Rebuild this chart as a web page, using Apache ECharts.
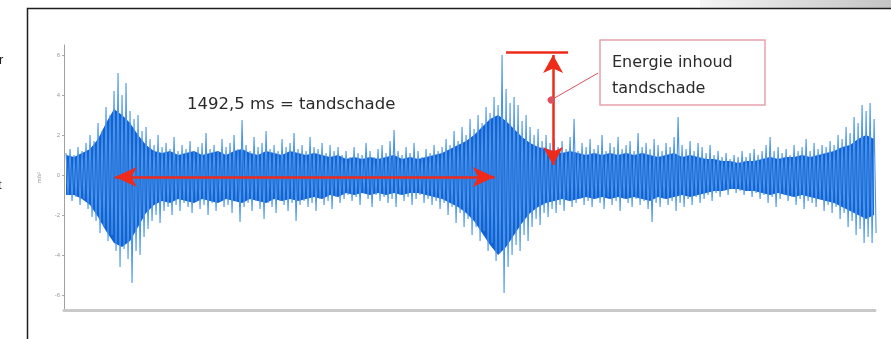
<!DOCTYPE html>
<html>
<head>
<meta charset="utf-8">
<script src="https://cdn.jsdelivr.net/npm/echarts@6/dist/echarts.min.js"></script>
<style>
html,body{margin:0;padding:0;background:#fff;}
#chart{width:891px;height:339px;}
</style>
</head>
<body>
<div id="chart"></div>
<script>
// ---- data ----
// sample spacing of the peak envelope samples, in ms
const sampleMs = 15.72;
const startMs = 8;
// upper peaks of the vibration signal (m/s^2), one per sample
const peakHigh = [
  1.1, 1.3, 1.0, 1.4, 1.2, 1.6, 2.0, 1.7, 2.6, 2.2,
  3.4, 3.0, 4.2, 5.1, 4.0, 4.6, 3.2, 2.8, 3.0, 2.2,
  2.4, 1.8, 1.5, 2.0, 1.4, 1.6, 1.3, 1.9, 1.2, 1.5,
  1.3, 1.7, 1.2, 1.4, 1.6, 2.1, 1.3, 1.5, 1.2, 1.8,
  1.4, 1.6, 2.0, 1.3, 2.75, 1.5, 1.2, 1.9, 1.4, 1.6,
  2.2, 1.3, 1.5, 1.2, 1.8, 1.4, 1.6, 2.1, 1.3, 1.5,
  1.2, 1.9, 1.4, 1.3, 1.6, 1.1, 1.5, 1.2, 1.4, 1.0,
  1.2, 0.9, 1.4, 1.1, 1.0, 1.6, 1.2, 0.9, 1.3, 1.5,
  1.1, 1.7, 2.25, 1.2, 1.0, 1.4, 1.1, 1.6, 1.2, 0.9,
  1.3, 1.1, 1.5, 1.2, 1.4, 1.8, 1.5, 2.2, 1.7, 2.4,
  2.0, 2.8, 2.3, 3.0, 2.6, 3.4, 3.1, 3.9, 3.5, 6.0,
  4.3, 3.6, 3.9, 3.5, 2.7, 3.0, 2.4, 2.0, 2.3, 1.7,
  2.0, 1.6, 1.8, 1.4, 1.7, 1.3, 1.9, 2.8, 1.2, 1.6,
  1.4, 1.8, 1.3, 1.5, 2.0, 1.2, 1.6, 1.4, 1.9, 1.3,
  1.5, 1.7, 1.2, 2.1, 1.4, 1.6, 1.3, 1.8, 1.5, 1.2,
  1.6, 1.4, 1.9, 2.9, 1.5, 1.3, 1.7, 1.2, 1.6, 1.4,
  1.1, 1.5, 1.0, 1.2, 0.9, 1.1, 0.8, 1.0, 0.9, 1.2,
  0.9, 1.1, 1.3, 1.0, 1.2, 1.5, 1.9, 1.2, 1.4, 1.1,
  1.3, 1.0, 1.5, 1.2, 1.4, 1.8, 1.2, 1.6, 1.3, 1.5,
  1.4, 1.7, 1.5, 2.0, 1.8, 2.4, 2.1, 2.9, 2.6, 3.5,
  3.2, 3.6, 2.8
];
// lower peaks of the vibration signal (m/s^2), one per sample
const peakLow = [
  -1.0, -1.3, -1.1, -1.5, -1.2, -1.7, -2.1, -2.3, -2.9, -2.6,
  -3.3, -3.0, -3.8, -4.6, -3.7, -4.2, -5.4, -3.8, -4.0, -3.1,
  -2.7, -2.3, -2.0, -2.4, -1.8, -1.6, -2.0, -1.5, -1.8, -1.4,
  -1.6, -1.9, -1.3, -1.7, -1.5, -2.0, -1.4, -1.8, -1.3, -1.6,
  -1.5, -1.9, -1.3, -2.35, -1.6, -1.4, -1.8, -1.3, -1.7, -2.2,
  -1.4, -1.6, -1.9, -1.3, -1.5, -1.8, -1.4, -2.3, -1.5, -1.3,
  -1.6, -1.4, -1.8, -1.2, -1.5, -1.3, -1.7, -1.1, -1.4, -1.2,
  -1.0, -1.3, -1.1, -1.5, -0.9, -1.2, -1.6, -1.0, -1.3, -1.1,
  -1.4, -1.2, -1.6, -1.0, -1.3, -1.1, -1.5, -1.2, -1.0, -1.4,
  -1.2, -1.5, -1.3, -1.7, -1.4, -2.0, -1.6, -2.4, -1.9, -2.6,
  -2.2, -3.0, -2.6, -3.3, -2.8, -3.8, -3.4, -4.3, -3.9, -5.9,
  -4.6, -4.0, -3.5, -3.8, -3.0, -3.3, -2.6, -2.2, -2.5, -1.9,
  -2.1, -1.7, -1.9, -1.5, -1.8, -1.3, -1.6, -1.4, -1.2, -1.5,
  -1.3, -1.6, -1.2, -1.4, -1.7, -1.1, -1.5, -1.3, -1.8, -1.2,
  -1.4, -1.6, -1.2, -1.5, -1.3, -1.7, -2.35, -1.4, -1.6, -1.2,
  -1.5, -1.3, -1.8, -1.4, -1.6, -1.2, -1.5, -1.1, -1.4, -1.2,
  -1.0, -1.3, -0.9, -1.1, -0.8, -1.0, -0.7, -0.9, -0.8, -1.0,
  -0.8, -1.1, -0.9, -1.2, -1.0, -1.4, -1.1, -1.6, -1.2, -1.0,
  -1.3, -1.1, -1.5, -1.2, -1.7, -1.3, -1.4, -1.6, -1.2, -1.8,
  -1.5, -1.9, -1.6, -2.2, -1.9, -2.6, -2.3, -3.0, -2.7, -3.4,
  -3.1, -3.4, -2.9
];
// dense core of the signal (m/s^2), coarser sampling
const coreMs = 31.44;
const coreHigh = [
  1.0, 0.9, 1.1, 1.3, 1.8, 2.6, 3.3, 3.0, 2.6, 2.0,
  1.5, 1.2, 1.1, 1.2, 1.0, 1.1, 1.2, 1.0, 1.1, 1.2,
  1.0, 1.2, 1.3, 1.1, 1.0, 1.2, 1.1, 1.0, 1.2, 1.1,
  1.0, 1.1, 1.0, 0.9, 1.0, 0.8, 0.9, 0.8, 0.9, 0.8,
  0.9, 1.0, 0.8, 0.9, 0.8, 0.9, 1.0, 1.1, 1.3, 1.5,
  1.7, 2.0, 2.4, 2.8, 3.0, 2.7, 2.3, 1.9, 1.6, 1.4,
  1.3, 1.2, 1.1, 1.2, 1.1, 1.0, 1.1, 1.0, 1.1, 1.0,
  1.1, 1.0, 1.1, 1.0, 0.9, 1.0, 1.1, 0.9, 1.0, 0.9,
  0.8, 0.8, 0.7, 0.7, 0.6, 0.7, 0.7, 0.8, 0.9, 0.8,
  0.9, 0.9, 1.0, 0.9, 1.0, 1.1, 1.2, 1.4, 1.5, 1.8,
  2.0, 1.8
];
const coreLow = [
  -1.0, -1.0, -1.2, -1.5, -2.1, -2.8, -3.4, -3.6, -3.3, -2.6,
  -1.9, -1.5, -1.3, -1.4, -1.2, -1.3, -1.4, -1.2, -1.3, -1.4,
  -1.2, -1.3, -1.4, -1.2, -1.3, -1.4, -1.2, -1.3, -1.2, -1.3,
  -1.2, -1.1, -1.2, -1.0, -1.1, -0.9, -1.0, -0.9, -1.0, -0.9,
  -1.0, -0.9, -1.0, -0.9, -0.9, -1.0, -1.1, -1.2, -1.4, -1.6,
  -1.9, -2.3, -2.9, -3.5, -4.0, -3.6, -3.0, -2.4, -1.9, -1.6,
  -1.4, -1.3, -1.2, -1.3, -1.2, -1.1, -1.2, -1.1, -1.2, -1.1,
  -1.2, -1.1, -1.2, -1.3, -1.1, -1.2, -1.1, -1.0, -1.1, -1.0,
  -0.9, -0.8, -0.8, -0.7, -0.7, -0.8, -0.8, -0.9, -1.0, -0.9,
  -1.0, -1.1, -1.0, -1.1, -1.2, -1.3, -1.4, -1.6, -1.8, -2.0,
  -2.2, -2.0
];
const yTicks = [-6, -4, -2, 0, 2, 4, 6];
// annotation values
const gapStartMs = 200;
const gapEndMs = 1692.5;
const gapLevel = -0.1;
const energyMs = 1922;
const energyTop = 6.15;
const energyBottom = 0.5;
const peakLineFrom = 1737;
const peakLineTo = 1981;
const gapText = '1492,5 ms = tandschade';
const boxLines = ['Energie inhoud', 'tandschade'];

// ---- build series data ----
const wave = [];
for (let i = 0; i < peakHigh.length; i++) {
  const t = startMs + i * sampleMs;
  wave.push([t, peakHigh[i]]);
  wave.push([t + sampleMs / 2, peakLow[i]]);
}
const coreT = coreHigh.map((_, j) => startMs + j * coreMs);

const RED = '#ee2a1b';
const chart = echarts.init(document.getElementById('chart'), null, {renderer: 'canvas'});
chart.setOption({
  animation: false,
  backgroundColor: '#ffffff',
  grid: {left: 64, right: 16, top: 45, bottom: 29},
  xAxis: {
    type: 'value', min: 0, max: 3187,
    axisLine: {show: true, onZero: false, lineStyle: {color: '#c9c9c9', width: 3}},
    axisTick: {show: false}, axisLabel: {show: false}, splitLine: {show: false}
  },
  yAxis: {
    type: 'value', min: -6.75, max: 6.5,
    name: 'm/s²', nameLocation: 'middle', nameGap: 22, nameRotate: 90,
    nameTextStyle: {fontSize: 6, color: '#999'},
    axisLine: {show: true, onZero: false, lineStyle: {color: '#a0a0a0', width: 1}},
    axisTick: {show: true, inside: false, length: 2, customValues: yTicks, lineStyle: {color: '#aaa'}},
    axisLabel: {show: true, customValues: yTicks, fontSize: 6, color: '#999', margin: 4},
    splitLine: {show: false}
  },
  series: [
    {
      type: 'custom', z: 2, silent: true,
      data: [[0, 0]],
      renderItem: function (params, api) {
        const pts = [];
        for (let j = 0; j < coreHigh.length; j++) pts.push(api.coord([coreT[j], coreHigh[j]]));
        for (let j = coreLow.length - 1; j >= 0; j--) pts.push(api.coord([coreT[j], coreLow[j]]));
        return {type: 'polygon', shape: {points: pts}, style: {fill: '#1262d2'}};
      }
    },
    {
      type: 'line', data: wave, showSymbol: false, symbol: 'none', sampling: null,
      lineStyle: {color: '#4a95ea', width: 1.1}, z: 3, silent: true
    },
    {
      type: 'line', data: [], z: 5, silent: true,
      markLine: {
        silent: true, animation: false,
        label: {show: false},
        data: [
          [{coord: [gapStartMs, gapLevel], symbol: 'arrow', symbolSize: [15, 22]},
           {coord: [gapEndMs, gapLevel], symbol: 'arrow', symbolSize: [15, 22]}],
          [{coord: [energyMs, energyTop - 0.15], symbol: 'arrow', symbolSize: [15, 18]},
           {coord: [energyMs, energyBottom], symbol: 'arrow', symbolSize: [15, 18]}],
          [{coord: [peakLineFrom, energyTop], symbol: 'none', lineStyle: {width: 2.5}},
           {coord: [peakLineTo, energyTop], symbol: 'none'}],
          [{coord: [1914, 3.75], symbol: 'circle', symbolSize: 7, lineStyle: {color: '#d9525e', width: 1}},
           {coord: [2099, 5.1], symbol: 'none'}]
        ],
        lineStyle: {color: RED, width: 2.5, type: 'solid'}
      }
    }
  ],
  graphic: [
    {type: 'rect', shape: {x: 700, y: 0, width: 191, height: 8}, z: 0,
     style: {fill: new echarts.graphic.LinearGradient(0, 0, 1, 0, [{offset: 0, color: '#f4f4f4'}, {offset: 1, color: '#c4c4c4'}])}},
    {type: 'rect', shape: {x: 27.5, y: 8.5, width: 900, height: 400}, z: 1,
     style: {fill: 'none', stroke: '#1e1e1e', lineWidth: 1.5}},
    {type: 'text', left: -1, top: 54, z: 10, style: {text: 'r', font: '13px "Liberation Sans"', fill: '#222'}},
    {type: 'text', left: -2, top: 179, z: 10, style: {text: 't', font: '13px "Liberation Sans"', fill: '#222'}},
    {type: 'text', left: 187, top: 96, z: 10,
     style: {text: gapText, font: '16.5px "DejaVu Sans"', fill: '#2a2a2a'}},
    {type: 'rect', shape: {x: 600, y: 40, width: 165, height: 65}, z: 9,
     style: {fill: '#ffffff', stroke: '#e7a1aa', lineWidth: 1.5}},
    {type: 'text', left: 612, top: 50, z: 10,
     style: {text: boxLines.join('\n'), font: '16px "DejaVu Sans"', lineHeight: 26, fill: '#2a2a2a'}}
  ]
});
</script>
</body>
</html>
